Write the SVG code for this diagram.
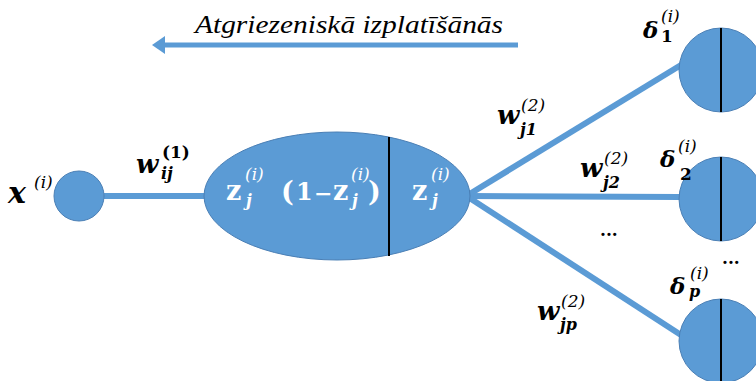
<svg xmlns="http://www.w3.org/2000/svg" width="756" height="381" viewBox="0 0 756 381">
<style>
.node{fill:#5b9bd5;stroke:#4a7fb5;stroke-width:1}
.div{stroke:#000;stroke-width:2}
.edge{stroke:#5b9bd5;stroke-width:6;fill:none}
.m{font-family:"DejaVu Serif","Liberation Serif",serif;fill:#000}
.big{font-size:26px;font-weight:bold;font-style:italic}
.dl{font-size:23px;font-weight:bold;font-style:italic}
.sup{font-size:17px;font-style:italic}
.supn{font-size:17px;font-weight:bold}
.sub{font-size:16px;font-style:italic;font-weight:bold}
.w{fill:#fff}
.z{font-size:27px;font-weight:bold}
.title{font-family:"Liberation Serif","DejaVu Serif",serif;font-size:25px;font-style:italic;fill:#000}
</style>
<g id="connectors">
<line class="edge" x1="104" y1="196" x2="205" y2="196"/>
<line class="edge" x1="468" y1="195" x2="681" y2="65"/>
<line class="edge" x1="468" y1="196" x2="680" y2="197"/>
<line class="edge" x1="468" y1="197" x2="681" y2="335"/>
</g>
<g id="backprop-arrow">
<line x1="518" y1="45" x2="162" y2="45" stroke="#5b9bd5" stroke-width="5"/>
<polygon points="152,45 165,36 165,54" fill="#5b9bd5"/>
<text class="title" x="195" y="33" textLength="308" lengthAdjust="spacingAndGlyphs">Atgriezeniskā izplatīšānās</text>
</g>
<g id="node-x">
<circle class="node" cx="79" cy="196" r="25"/>
<text class="m big" x="8" y="203" style="font-size:30px">x</text>
<text class="m sup" x="34" y="188">(i)</text>
</g>
<g id="label-w1">
<text class="m big" x="136" y="173">w</text>
<text class="m supn" x="162" y="158">(1)</text>
<text class="m sub" x="161" y="179">ij</text>
</g>
<g id="node-hidden">
<ellipse class="node" cx="337" cy="196" rx="133" ry="64"/>
<line class="div" x1="389" y1="137" x2="389" y2="256"/>
<text class="m z w" x="226" y="200">z</text>
<text class="m sup w" x="245" y="180">(i)</text>
<text class="m sub w" x="246" y="206">j</text>
<text class="m z w" x="281" y="201">(</text>
<text class="m z w" x="296" y="200" style="font-size:24px">1</text>
<text class="m w" x="314" y="201" style="font-size:22px;font-weight:bold">−</text>
<text class="m z w" x="333" y="200">z</text>
<text class="m sup w" x="351" y="180">(i)</text>
<text class="m sub w" x="352" y="206">j</text>
<text class="m z w" x="368" y="201">)</text>
<text class="m z w" x="412" y="200">z</text>
<text class="m sup w" x="431" y="180">(i)</text>
<text class="m sub w" x="432" y="206">j</text>
</g>
<g id="node-out1">
<circle class="node" cx="721" cy="70" r="42"/>
<line class="div" x1="721" y1="28" x2="721" y2="112"/>
<text class="m dl" x="643" y="38">δ</text>
<text class="m sup" x="661" y="22">(i)</text>
<text class="m supn" x="661" y="42">1</text>
</g>
<g id="node-out2">
<circle class="node" cx="721" cy="199" r="42"/>
<line class="div" x1="721" y1="157" x2="721" y2="241"/>
<text class="m dl" x="660" y="167">δ</text>
<text class="m sup" x="678" y="152">(i)</text>
<text class="m supn" x="680" y="180">2</text>
</g>
<g id="node-outp">
<circle class="node" cx="721" cy="341" r="42"/>
<line class="div" x1="721" y1="299" x2="721" y2="383"/>
<text class="m dl" x="670" y="294">δ</text>
<text class="m sup" x="690" y="279">(i)</text>
<text class="m sub" x="689" y="297">p</text>
</g>
<g id="label-w2">
<text class="m big" x="497" y="124">w</text>
<text class="m sup" x="521" y="111">(2)</text>
<text class="m sub" x="520" y="135">j1</text>
<text class="m big" x="580" y="177">w</text>
<text class="m sup" x="604" y="164">(2)</text>
<text class="m sub" x="603" y="188">j2</text>
<text class="m big" x="537" y="320">w</text>
<text class="m sup" x="561" y="307">(2)</text>
<text class="m sub" x="560" y="330">jp</text>
<text class="m supn" x="600" y="236">...</text>
<text class="m supn" x="722" y="264">...</text>
</g>
</svg>
